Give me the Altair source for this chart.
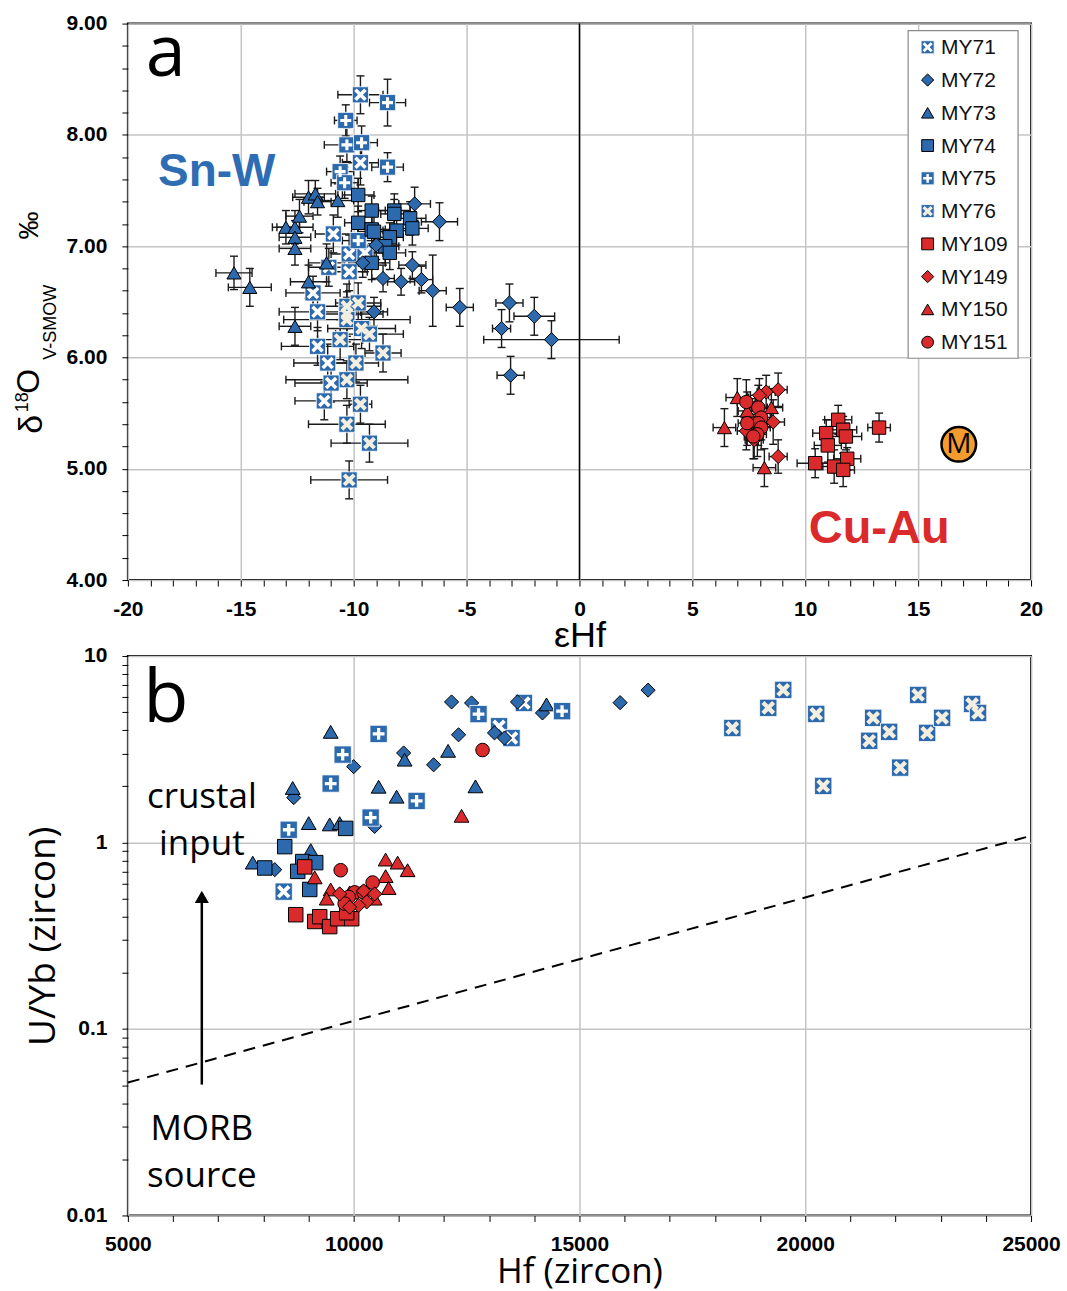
import math
import altair as alt
import pandas as pd

BLUE = "#2c69ad"
RED = "#db2a2c"
CREAM = "#f3efe0"
ORANGE = "#f39b2d"
EB = "#1a1a1a"
GRID = "#c4c4c4"

# ---------------- Panel a : eHf vs d18O (with 1-sigma errors) ----------------
a_MY71_x = [-9.7, -9.7, -10.9, -11.8, -11.6, -11.6, -11.15, -11.0, -11.3, -10.2, -9.5, -10.2, -11.1]
a_MY71_y = [8.36, 7.75, 7.11, 6.58, 6.41, 6.10, 5.95, 5.77, 5.61, 6.93, 6.94, 6.77, 6.81]
a_MY71_xe = [1.0, 0.8, 0.8, 1.2, 1.7, 1.6, 1.5, 1.6, 1.3, 0.8, 0.8, 0.8, 0.9]
a_MY71_ye = [0.17, 0.20, 0.17, 0.15, 0.17, 0.17, 0.17, 0.17, 0.17, 0.17, 0.17, 0.17, 0.17]

a_MY72_x = [-7.3, -6.2, -7.4, -8.7, -7.9, -7.0, -6.5, -5.3, -9.1, -9.6, -9.0, -3.1, -2.0, -3.45, -1.24, -3.05]
a_MY72_y = [7.38, 7.22, 6.83, 6.71, 6.68, 6.70, 6.60, 6.45, 6.41, 6.85, 7.01, 6.49, 6.37, 6.26, 6.16, 5.84]
a_MY72_xe = [0.7, 0.8, 0.6, 0.5, 0.6, 0.5, 0.6, 0.6, 0.6, 0.6, 0.6, 0.6, 0.9, 0.4, 3.0, 0.6]
a_MY72_ye = [0.15, 0.17, 0.12, 0.12, 0.12, 0.12, 0.32, 0.17, 0.13, 0.13, 0.13, 0.17, 0.17, 0.17, 0.17, 0.17]

a_MY73_x = [-15.3, -14.6, -13.0, -12.6, -12.4, -12.6, -12.6, -12.0, -11.7, -11.6, -10.7, -11.2, -12.0, -12.6]
a_MY73_y = [6.76, 6.63, 7.17, 7.17, 7.27, 7.08, 6.98, 7.44, 7.47, 7.40, 7.41, 6.85, 6.68, 6.28]
a_MY73_xe = [0.8, 0.95, 0.6, 0.8, 0.6, 0.7, 0.7, 0.7, 0.9, 0.6, 0.7, 0.8, 0.8, 0.7]
a_MY73_ye = [0.15, 0.17, 0.15, 0.15, 0.15, 0.15, 0.15, 0.15, 0.12, 0.12, 0.15, 0.17, 0.15, 0.17]

a_MY74_x = [-9.8, -9.2, -8.2, -8.2, -7.5, -9.8, -9.2, -9.1, -8.1, -7.4, -8.4, -8.6, -8.4, -9.2]
a_MY74_y = [7.46, 7.32, 7.32, 7.29, 7.25, 7.21, 7.15, 7.13, 7.14, 7.16, 7.08, 7.00, 6.94, 6.85]
a_MY74_xe = [0.7, 0.6, 0.7, 0.6, 0.7, 0.6, 0.6, 0.7, 0.6, 0.7, 0.6, 0.6, 0.7, 0.6]
a_MY74_ye = [0.15, 0.13, 0.15, 0.13, 0.15, 0.15, 0.13, 0.15, 0.13, 0.15, 0.13, 0.15, 0.15, 0.15]

a_MY75_x = [-8.5, -10.35, -10.3, -9.65, -8.5, -10.6, -10.4, -9.8]
a_MY75_y = [8.29, 8.13, 7.91, 7.93, 7.71, 7.67, 7.57, 7.05]
a_MY75_xe = [0.8, 0.5, 1.0, 0.7, 0.7, 0.6, 0.6, 0.7]
a_MY75_ye = [0.21, 0.14, 0.15, 0.15, 0.13, 0.14, 0.14, 0.14]

a_MY76_x = [-10.3, -9.8, -10.3, -10.3, -9.65, -9.3, -10.6, -8.7, -9.9, -10.3, -9.7, -10.3, -9.3, -10.2]
a_MY76_y = [6.46, 6.49, 6.39, 6.34, 6.26, 6.21, 6.16, 6.04, 5.95, 5.80, 5.58, 5.40, 5.23, 4.90]
a_MY76_xe = [1.5, 1.0, 1.6, 2.8, 1.5, 1.5, 1.0, 0.8, 1.0, 2.7, 0.5, 1.7, 1.7, 1.7]
a_MY76_ye = [0.20, 0.18, 0.20, 0.20, 0.18, 0.15, 0.18, 0.17, 0.17, 0.17, 0.17, 0.17, 0.17, 0.17]

a_MY109_x = [11.46, 10.93, 11.68, 11.8, 11.0, 13.27, 10.44, 11.28, 11.86, 11.68]
a_MY109_y = [5.44, 5.32, 5.35, 5.29, 5.21, 5.37, 5.05, 5.02, 5.09, 4.99]
a_MY109_xe = [0.6, 0.6, 0.6, 0.7, 0.6, 0.5, 0.8, 0.5, 0.6, 0.5]
a_MY109_ye = [0.13, 0.12, 0.12, 0.12, 0.15, 0.13, 0.13, 0.15, 0.10, 0.15]

a_MY149_x = [8.8, 8.27, 7.97, 8.58, 7.39, 7.74, 8.8]
a_MY149_y = [5.71, 5.69, 5.66, 5.42, 5.34, 5.26, 5.11]
a_MY149_xe = [0.4, 0.4, 0.4, 0.5, 0.4, 0.4, 0.4]
a_MY149_ye = [0.15, 0.15, 0.15, 0.20, 0.17, 0.17, 0.15]

a_MY150_x = [6.99, 8.5, 7.6, 6.42, 8.19, 7.43]
a_MY150_y = [5.64, 5.55, 5.46, 5.37, 5.01, 5.52]
a_MY150_xe = [0.5, 0.5, 0.4, 0.5, 0.5, 0.4]
a_MY150_ye = [0.17, 0.17, 0.17, 0.17, 0.17, 0.17]

a_MY151_x = [7.39, 7.92, 8.05, 7.92, 8.05, 7.88, 7.7, 7.43]
a_MY151_y = [5.60, 5.55, 5.46, 5.41, 5.37, 5.31, 5.29, 5.41]
a_MY151_xe = [0.4, 0.4, 0.4, 0.4, 0.4, 0.4, 0.4, 0.4]
a_MY151_ye = [0.20, 0.20, 0.20, 0.20, 0.20, 0.20, 0.20, 0.20]

mantle_ehf = [16.8]
mantle_d18o = [5.22]

# ---------------- Panel b : Hf vs U/Yb ----------------
b_MY71_hf = [8451, 13770, 13219, 13496]
b_MY71_uyb = [0.545, 5.6, 4.2, 3.63]

b_MY72_hf = [12168, 12611, 12323, 11770, 11106, 10000, 8673, 10465, 13119, 13340, 14181, 13628, 8252, 15900, 16520]
b_MY72_uyb = [5.67, 5.6, 3.78, 2.61, 3.02, 2.55, 1.74, 1.22, 3.87, 3.63, 4.95, 5.67, 0.715, 5.62, 6.56]

b_MY73_hf = [9491, 8650, 11128, 12091, 12697, 14270, 10553, 10951, 9004, 9469, 9690, 9049, 7765]
b_MY73_uyb = [3.92, 1.96, 2.78, 3.1, 2.0, 5.5, 1.99, 1.76, 1.27, 1.25, 1.27, 0.91, 0.78]

b_MY74_hf = [9823, 8473, 8031, 8872, 9159, 8761, 9027]
b_MY74_uyb = [1.19, 0.95, 0.73, 0.79, 0.78, 0.70, 0.56]

b_MY75_hf = [10553, 9757, 9491, 11394, 10376, 8562, 12765, 14615]
b_MY75_uyb = [3.82, 2.96, 2.07, 1.67, 1.36, 1.17, 4.88, 5.06]

b_MY76_hf = [18385, 19181, 19513, 20243, 20398, 21504, 21416, 21858, 22102, 22500, 22699, 23031, 23695, 23827]
b_MY76_uyb = [4.11, 5.27, 6.58, 4.89, 2.01, 4.66, 3.51, 3.92, 2.52, 6.18, 3.87, 4.66, 5.53, 4.95]

b_MY109_hf = [8916, 8717, 9137, 9248, 9469, 9646, 9956, 9845]
b_MY109_uyb = [0.74, 0.41, 0.377, 0.40, 0.354, 0.39, 0.39, 0.42]

b_MY149_hf = [9690, 10221, 10465, 10288, 10111, 9912]
b_MY149_uyb = [0.53, 0.55, 0.53, 0.48, 0.46, 0.45]

b_MY150_hf = [9137, 9491, 9403, 9912, 10708, 10973, 11194, 10708, 10774, 10465, 12389]
b_MY150_uyb = [0.65, 0.56, 0.50, 0.54, 0.81, 0.78, 0.71, 0.66, 0.57, 0.50, 1.39]

b_MY151_hf = [9712, 10420, 10022, 10221, 9890, 9801, 12854]
b_MY151_uyb = [0.71, 0.61, 0.54, 0.54, 0.51, 0.47, 3.13]

morb_line_hf = [5000, 25000]
morb_line_uyb = [0.0516, 1.086]

series_order = ["MY71", "MY72", "MY73", "MY74", "MY75", "MY76", "MY109", "MY149", "MY150", "MY151"]

# ---------------- symbol styles ----------------
def poly_path(pts):
    return "M" + "L".join(f"{x:.3f},{y:.3f}" for x, y in pts) + "Z"

def plus_path(t, r):
    return poly_path([(-t, -r), (t, -r), (t, -t), (r, -t), (r, t), (t, t), (t, r), (-t, r),
                      (-t, t), (-r, t), (-r, -t), (-t, -t)])

def x_path(t, r):
    c = t * math.sqrt(2)
    o = t / math.sqrt(2)
    return poly_path([(0, -c), (r - o, -r - o), (r + o, -r + o), (c, 0), (r + o, r - o), (r - o, r + o),
                      (0, c), (-r + o, r + o), (-r - o, r - o), (-c, 0), (-r - o, -r + o), (-r + o, -r - o)])

PLUS = plus_path(0.19, 0.68)
X71 = x_path(0.22, 0.62)
X76 = x_path(0.25, 0.62)

STYLE = {
    "MY71": ("xsq", BLUE, "white"),
    "MY72": ("diamond", BLUE, None),
    "MY73": ("triangle-up", BLUE, None),
    "MY74": ("square", BLUE, None),
    "MY75": ("plussq", BLUE, "white"),
    "MY76": ("xsq76", BLUE, CREAM),
    "MY109": ("square", RED, None),
    "MY149": ("diamond", RED, None),
    "MY150": ("triangle-up", RED, None),
    "MY151": ("circle", RED, None),
}


def symbol_layers(df, X, Y, sizes):
    shape, color, inner = STYLE[df["series"].iloc[0]]
    base = alt.Chart(df)
    enc = dict(x=X("x"), y=Y("y"))
    if shape in ("xsq", "xsq76", "plussq"):
        s = sizes["boxed"]
        sq = base.mark_point(shape="square", filled=True, fill=color, stroke="white", strokeWidth=0.8,
                             size=s, opacity=1).encode(**enc)
        path = PLUS if shape == "plussq" else (X71 if shape == "xsq" else X76)
        cross = base.mark_point(shape=path, filled=True, fill=inner, strokeWidth=0, size=s,
                                opacity=1).encode(**enc)
        return [sq, cross]
    return [base.mark_point(shape=shape, filled=True, fill=color, stroke="black", strokeWidth=1,
                            size=sizes[shape], opacity=1).encode(**enc)]


TICK_FONT = "Liberation Sans"

# ---------------- Panel a ----------------
A_X0, A_X1, A_Y0, A_Y1 = -20, 20, 4, 9
A_W, A_H = 904, 557
xa_scale = alt.Scale(domain=[A_X0, A_X1], nice=False, zero=False)
ya_scale = alt.Scale(domain=[A_Y0, A_Y1], nice=False, zero=False)

axis_common = dict(labelFont=TICK_FONT, labelFontWeight="bold", labelFontSize=21, labelColor="black",
                   tickColor="black", tickSize=6, tickWidth=1, domain=False, gridColor=GRID, gridWidth=1.5,
                   labelOverlap=False, labelFlush=False, labelBound=False)

xa_axis = alt.Axis(values=list(range(-20, 21)), title="εHf", titleFont="Liberation Sans",
                   titleFontSize=36, titleFontWeight="normal", titleColor="black", titlePadding=0,
                   labelPadding=12, labelExpr="datum.value % 5 == 0 ? '' + datum.value : ''",
                   gridOpacity={"condition": {"test": "datum.value % 5 == 0", "value": 1}, "value": 0},
                   **axis_common)
ya_axis = alt.Axis(values=[round(4 + 0.2 * i, 1) for i in range(26)], title=None, labelPadding=15,
                   labelExpr="abs(datum.value - round(datum.value)) < 0.001 ? format(datum.value, '.2f') : ''",
                   gridOpacity={"condition": {"test": "abs(datum.value - round(datum.value)) < 0.001",
                                              "value": 1}, "value": 0},
                   **axis_common)


def XA(f):
    return alt.X(f, type="quantitative", scale=xa_scale, axis=xa_axis)


def YA(f):
    return alt.Y(f, type="quantitative", scale=ya_scale, axis=ya_axis)


def a_frame(name):
    g = globals()
    d = pd.DataFrame({"x": g[f"a_{name}_x"], "y": g[f"a_{name}_y"],
                      "xe": g[f"a_{name}_xe"], "ye": g[f"a_{name}_ye"]})
    d["series"] = name
    d["x_lo"] = d["x"] - d["xe"]
    d["x_hi"] = d["x"] + d["xe"]
    d["y_lo"] = d["y"] - d["ye"]
    d["y_hi"] = d["y"] + d["ye"]
    return d


a_frames = {n: a_frame(n) for n in series_order}
a_all = pd.concat(a_frames.values(), ignore_index=True)

layers_a = []
# zero line
layers_a.append(alt.Chart(pd.DataFrame({"x": [0]})).mark_rule(color="black", strokeWidth=1.5)
                .encode(x=XA("x")))
# error bars
layers_a.append(alt.Chart(a_all).mark_rule(color=EB, strokeWidth=1.4)
                .encode(x=XA("x_lo"), x2="x_hi", y=YA("y")))
layers_a.append(alt.Chart(a_all).mark_rule(color=EB, strokeWidth=1.4)
                .encode(x=XA("x"), y=YA("y_lo"), y2="y_hi"))
for f in ("x_lo", "x_hi"):
    layers_a.append(alt.Chart(a_all).mark_tick(orient="vertical", size=8, thickness=1.4, color=EB, opacity=1)
                    .encode(x=XA(f), y=YA("y")))
for f in ("y_lo", "y_hi"):
    layers_a.append(alt.Chart(a_all).mark_tick(orient="horizontal", size=8, thickness=1.4, color=EB, opacity=1)
                    .encode(x=XA("x"), y=YA(f)))

sizes_a = {"boxed": 260, "diamond": 200, "triangle-up": 200, "square": 180, "circle": 180}
for n in ["MY76", "MY71", "MY75", "MY73", "MY74", "MY72", "MY149", "MY150", "MY151", "MY109"]:
    layers_a += symbol_layers(a_frames[n], XA, YA, sizes_a)

# mantle "M"
mdf = pd.DataFrame({"x": mantle_ehf, "y": mantle_d18o})
layers_a.append(alt.Chart(mdf).mark_point(shape="circle", filled=True, fill=ORANGE, stroke="black",
                                          strokeWidth=2.5, size=1200, opacity=1)
                .encode(x=XA("x"), y=YA("y")))
layers_a.append(alt.Chart(mdf).mark_text(text="M", font="Open Sans", fontSize=28, color="black",
                                         align="center", baseline="middle", dy=1)
                .encode(x=XA("x"), y=YA("y")))


def px_a(px, py):
    """plot-relative pixel -> data coordinates of panel a (for annotations)"""
    return A_X0 + px / A_W * (A_X1 - A_X0), A_Y1 - py / A_H * (A_Y1 - A_Y0)


def text_a(txt, px, py, **kw):
    x, y = px_a(px, py)
    return alt.Chart(pd.DataFrame({"x": [x], "y": [y]})).mark_text(text=txt, **kw).encode(
        x=XA("x"), y=YA("y"))


layers_a.append(text_a("a", 38, 52, font="Open Sans", fontSize=72, color="black", align="center",
                       baseline="alphabetic"))
layers_a.append(text_a("Sn-W", 89, 163, font="Liberation Sans", fontWeight="bold", fontSize=46,
                       color="#2e6db4", align="center", baseline="alphabetic"))
layers_a.append(text_a("Cu-Au", 752, 520, font="Liberation Sans", fontWeight="bold", fontSize=47,
                       color=RED, align="center", baseline="alphabetic"))

# y-axis title  δ18O V-SMOW ‰  (composite, rotated)
one = pd.DataFrame({"k": [0]})
for txt, px, py, fs in [("δ", -96, 401, 34), ("18", -105, 379, 18), ("O", -99, 358, 32),
                        ("V-SMOW", -77, 299, 18), ("‰", -98, 202, 28)]:
    layers_a.append(alt.Chart(one).mark_text(text=txt, angle=270, font="Liberation Sans", fontSize=fs,
                                             color="black", align="center", baseline="middle")
                    .encode(x=alt.value(px), y=alt.value(py)))

# legend (drawn inside panel a)
layers_a.append(alt.Chart(one).mark_rect(fill="white", stroke="#8a8a8a", strokeWidth=1.2)
                .encode(x=alt.value(781), x2=alt.value(891), y=alt.value(7), y2=alt.value(335)))
sizes_leg = {"boxed": 170, "diamond": 150, "triangle-up": 150, "square": 140, "circle": 140}
for i, n in enumerate(series_order):
    sx, sy = px_a(800.5, 23.7 + 32.8 * i)
    tx, _ = px_a(814, 0)
    ldf = pd.DataFrame({"x": [sx], "y": [sy], "tx": [tx], "series": [n]})
    layers_a += symbol_layers(ldf, XA, YA, sizes_leg)
    layers_a.append(alt.Chart(ldf).mark_text(text=n, font="Liberation Sans", fontSize=21, color="#111",
                                             align="left", baseline="middle", dy=1)
                    .encode(x=XA("tx"), y=YA("y")))

panel_a = alt.layer(*layers_a).properties(width=A_W, height=A_H)

# ---------------- Panel b ----------------
B_X0, B_X1 = 5000, 25000
B_W, B_H = 904, 560
xb_scale = alt.Scale(domain=[B_X0, B_X1], nice=False, zero=False)
yb_scale = alt.Scale(type="log", domain=[0.01, 10], nice=False)

log_ticks = [round(m * 10 ** e, 6) for e in (-2, -1, 0) for m in range(1, 10)] + [10]
decade_test = "indexof([0.01, 0.1, 1, 10], datum.value) >= 0"

xb_axis = alt.Axis(values=list(range(5000, 25001, 1000)), title="Hf (zircon)", titleFont="Open Sans",
                   titleFontSize=35, titleFontWeight="normal", titleColor="black", titlePadding=0,
                   labelPadding=12, labelExpr="datum.value % 5000 == 0 ? '' + datum.value : ''",
                   gridOpacity={"condition": {"test": "datum.value % 5000 == 0", "value": 1}, "value": 0},
                   **axis_common)
yb_axis = alt.Axis(values=log_ticks, title="U/Yb (zircon)", titleFont="Open Sans", titleFontSize=37,
                   titleFontWeight="normal", titleColor="black", titlePadding=4, labelPadding=15,
                   labelExpr=decade_test + " ? '' + datum.value : ''",
                   gridOpacity={"condition": {"test": decade_test, "value": 1}, "value": 0},
                   **axis_common)


def XB(f):
    return alt.X(f, type="quantitative", scale=xb_scale, axis=xb_axis)


def YB(f):
    return alt.Y(f, type="quantitative", scale=yb_scale, axis=yb_axis)


def b_frame(name):
    g = globals()
    d = pd.DataFrame({"x": g[f"b_{name}_hf"], "y": g[f"b_{name}_uyb"]})
    d["series"] = name
    return d


b_frames = {n: b_frame(n) for n in series_order}

layers_b = []
layers_b.append(alt.Chart(pd.DataFrame({"x": morb_line_hf, "y": morb_line_uyb}))
                .mark_line(color="black", strokeWidth=2, strokeDash=[12, 8])
                .encode(x=XB("x"), y=YB("y")))

sizes_b = {"boxed": 300, "diamond": 200, "triangle-up": 220, "square": 210, "circle": 185}
for n in ["MY76", "MY71", "MY72", "MY73", "MY75", "MY74", "MY109", "MY150", "MY151", "MY149"]:
    layers_b += symbol_layers(b_frames[n], XB, YB, sizes_b)


def px_b(px, py):
    x = B_X0 + px / B_W * (B_X1 - B_X0)
    y = 10 ** (1 - py / B_H * 3)
    return x, y


def text_b(txt, px, py, **kw):
    x, y = px_b(px, py)
    return alt.Chart(pd.DataFrame({"x": [x], "y": [y]})).mark_text(text=txt, **kw).encode(
        x=XB("x"), y=YB("y"))


lab = dict(font="Open Sans", fontSize=35, color="black", align="center", baseline="alphabetic")
layers_b.append(text_b("b", 38, 66, font="Open Sans", fontSize=74, color="black", align="center",
                       baseline="alphabetic"))
layers_b.append(text_b("crustal", 74, 152, **lab))
layers_b.append(text_b("input", 74, 199, **lab))
layers_b.append(text_b("MORB", 74, 484, **lab))
layers_b.append(text_b("source", 74, 532, **lab))

# arrow (MORB source -> crustal input)
ax0, ay0 = px_b(74, 429)
ax1, ay1 = px_b(74, 246)
layers_b.append(alt.Chart(pd.DataFrame({"x": [ax0], "y": [ay0], "y2": [ay1]}))
                .mark_rule(color="black", strokeWidth=2.5)
                .encode(x=XB("x"), y=YB("y"), y2="y2"))
hx, hy = px_b(74, 241)
layers_b.append(alt.Chart(pd.DataFrame({"x": [hx], "y": [hy]}))
                .mark_point(shape="triangle-up", filled=True, fill="black", size=200, opacity=1, strokeWidth=0)
                .encode(x=XB("x"), y=YB("y")))

panel_b = alt.layer(*layers_b).properties(width=B_W, height=B_H)

chart = (alt.vconcat(panel_a, panel_b, spacing=-11)
         .properties(padding={"left": 12, "top": 11, "right": 5, "bottom": 0}, background="white")
         .configure_view(stroke="black", strokeWidth=2))

chart.save("out.html", embed_options={"renderer": "svg", "actions": False})
